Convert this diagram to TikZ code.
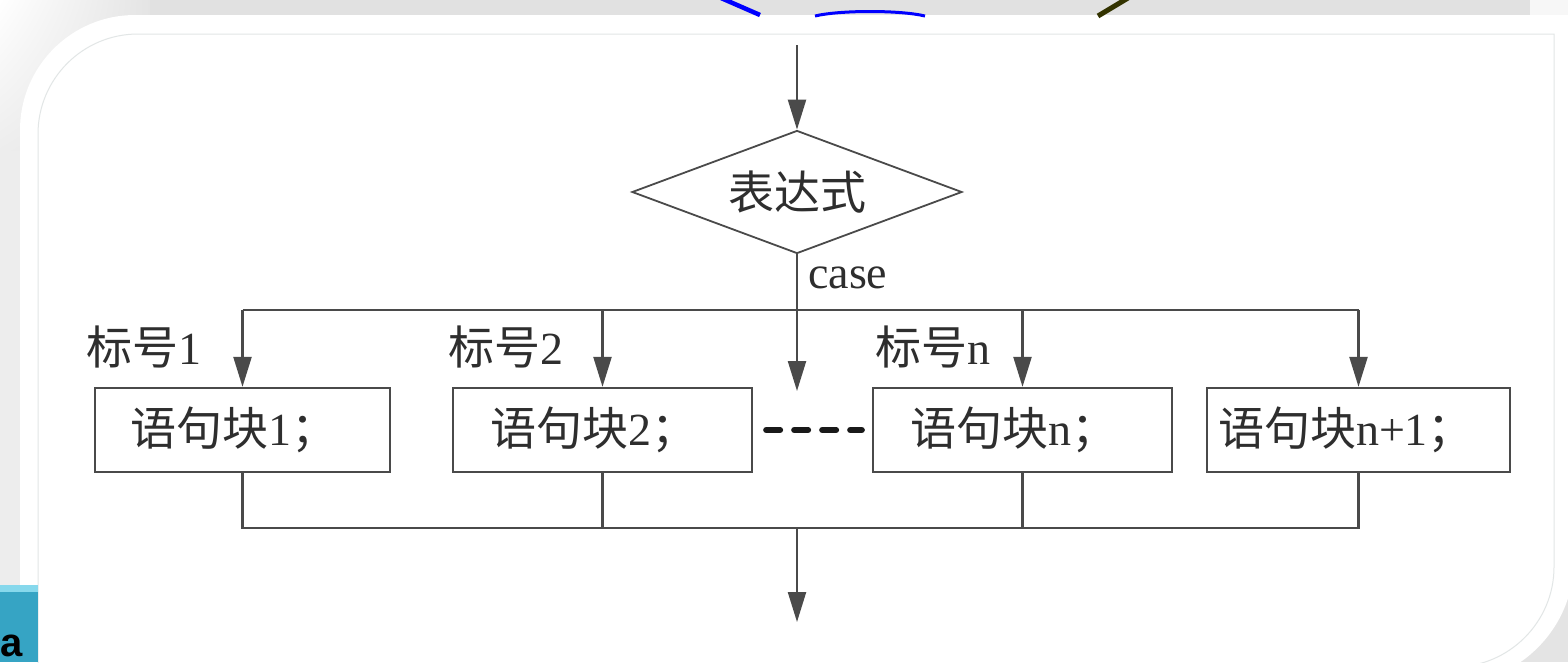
\documentclass[tikz,border=0pt]{standalone}
\usepackage{fontspec}
\setmainfont{Liberation Serif}
\newfontfamily\cjk{Noto Sans CJK SC}
\newfontfamily\sansfam{Liberation Sans}
\usetikzlibrary{arrows.meta,shapes.geometric,shadings}
\definecolor{ln}{HTML}{4A4A4A}
\definecolor{txt}{HTML}{2E2E2E}
\definecolor{bggray}{HTML}{E4E4E4}
\definecolor{stripgray}{HTML}{E1E1E1}
\definecolor{stripline}{HTML}{C6C6C6}
\definecolor{innerline}{HTML}{E2E6E6}
\definecolor{cyanbox}{HTML}{36A4C4}
\definecolor{cyanlight}{HTML}{86D8EC}
\definecolor{olive}{HTML}{333300}
\newcommand{\cj}[1]{{\cjk #1}}
\tikzset{
  big/.style={font=\fontsize{46}{50}\selectfont, text=txt},
  conn/.style={draw=ln, line width=2.3pt},
  arr/.style={conn, -{Triangle[length=30pt,width=18pt]}},
  stepbox/.style={big, draw=ln, line width=2.3pt, minimum height=84pt, align=left, inner ysep=0pt, text width=225pt},
  lbl/.style={big, inner sep=0pt, anchor=west},
  decision/.style={big, draw=ln, line width=1.8pt, shape=diamond, aspect=2.68, minimum width=330pt, minimum height=123pt, inner sep=0pt},
  dots/.style={draw=black!90, line width=6pt, line cap=round, dash pattern=on 14pt off 14pt}
}
\begin{document}
\begin{tikzpicture}[x=1pt,y=-1pt]
\useasboundingbox (0,0) rectangle (1568,662);
% ---------- slide background ----------
\begin{scope}
\clip (0,0) rectangle (1568,662);
\fill[bggray] (0,0) rectangle (1568,662);
\fill[stripgray] (0,0) rectangle (1568,15);
\fill[black!7] (0,15) rectangle (20,662);
\shade[upper left=white, upper right=bggray, lower left=black!7, lower right=bggray] (0,0) rectangle (150,150);
\fill[black!3] (1530,0) rectangle (1568,15);
\draw[stripline, line width=1pt] (130,15) -- (1568,15);
% white panel
\fill[white] (20,720) -- (20,130) .. controls (20,66.5) and (71.5,15) .. (135,15) -- (1574,15) -- (1574,560) .. controls (1574,628.5) and (1518.5,684) .. (1450,684) -- (20,684) -- cycle;
% inner thin frame line
\draw[innerline, line width=1pt] (38,700) -- (38,134) .. controls (38,78.8) and (82.8,34) .. (138,34) -- (1554,34) -- (1554,567) .. controls (1554,622) and (1509,667) .. (1454,667);
% cyan box bottom left
\fill[cyanbox] (0,585) rectangle (38,662);
\fill[cyanlight] (0,585) rectangle (38,592);
\node[font=\sansfam\fontsize{40}{42}\selectfont\bfseries, text=black, inner sep=0pt, anchor=base west] (afrag) at (0,656) {a};
% top fragments
\draw[blue, line width=4.5pt] (721,-2) -- (760,15);
\draw[blue, line width=3pt] (815,16) .. controls (840,10) and (900,10) .. (925,16);
\draw[olive, line width=5pt] (1128,-2) -- (1098,16);
\end{scope}
% ---------- flowchart ----------
\node[decision] (dia) at (797,192) {\cj{表达式}};
\coordinate (start) at (797,45);
\draw[arr] (start) -- (dia.north);
\node[big, inner sep=0pt, anchor=base west] (case) at (808,288) {case};

\node[stepbox, inner xsep=35pt] (b1) at (242.5,430) {\cj{语句块}1\cj{；}};
\node[stepbox, inner xsep=37pt] (b2) at (602.5,430) {\cj{语句块}2\cj{；}};
\node[stepbox, inner xsep=37pt] (bn) at (1022.5,430) {\cj{语句块}n\cj{；}};
\node[stepbox, inner xsep=11pt, text width=281pt] (bm) at (1358.5,430) {\cj{语句块}n+1\cj{；}};

\node[lbl] (l1) at (86,347) {\cj{标号}1};
\node[lbl] (l2) at (448,347) {\cj{标号}2};
\node[lbl] (ln) at (875,347) {\cj{标号}n};

\coordinate (bus) at (797,310);
\coordinate (cend) at (797,391);
\coordinate (h1) at (b1.north |- bus);
\coordinate (h2) at (b2.north |- bus);
\coordinate (hn) at (bn.north |- bus);
\coordinate (hm) at (bm.north |- bus);
\draw[conn] (h1) -- (hm);
\draw[arr] (dia.south) -- (cend);
\draw[arr] (h1) -- (b1.north);
\draw[arr] (h2) -- (b2.north);
\draw[arr] (hn) -- (bn.north);
\draw[arr] (hm) -- (bm.north);

\draw[dots] ([xshift=13pt]b2.east) -- ([xshift=-10pt]bn.west);

\coordinate (bot) at (797,528);
\coordinate (finish) at (797,622);
\draw[conn] (b1.south) |- (bot) -| (bm.south);
\draw[conn] (b2.south) -- (b2.south |- bot);
\draw[conn] (bn.south) -- (bn.south |- bot);
\draw[arr] (bot) -- (finish);
\end{tikzpicture}
\end{document}
